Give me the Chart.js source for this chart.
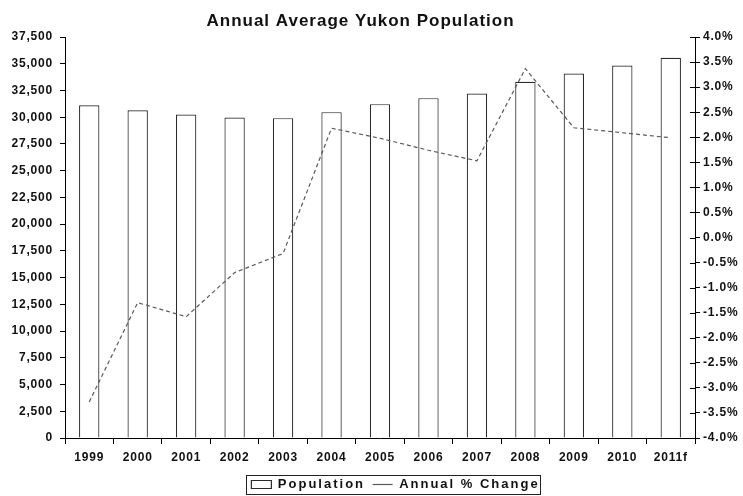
<!DOCTYPE html>
<html>
<head>
<meta charset="utf-8">
<script src="https://cdn.jsdelivr.net/npm/chart.js@4/dist/chart.umd.min.js"></script>
<style>
  html, body { margin: 0; padding: 0; background: #fff; }
  canvas { display: block; }
</style>
</head>
<body>
<canvas id="c" width="743" height="496"></canvas>
<script>
const years = ['1999','2000','2001','2002','2003','2004','2005','2006','2007','2008','2009','2010','2011f'];
const population = [31120, 30650, 30250, 29970, 29910, 30470, 31220, 31780, 32220, 33310, 34090, 34840, 35560];
const pctChange = [-3.28, -1.30, -1.58, -0.70, -0.32, 2.18, 1.98, 1.74, 1.53, 3.37, 2.19, 2.09, 1.99];
const leftTicks = [0, 37500, 2500];   // min, max, step
const rightTicks = [-4, 4, 0.5];      // min, max, step

const FONT = 'Liberation Sans, Arial, sans-serif';

function spaced(obj, names, sp) {
  names.forEach(n => {
    const key = '__w_' + n;
    if (obj[key]) return;
    const orig = obj[n];
    obj[n] = function (...a) {
      const c = this.ctx;
      const prev = c.letterSpacing;
      c.letterSpacing = sp;
      const r = orig.apply(this, a);
      c.letterSpacing = prev;
      return r;
    };
    obj[key] = true;
  });
}

const framePlugin = {
  id: 'frame',
  beforeLayout(chart) {
    if (chart.titleBlock) spaced(chart.titleBlock, ['draw'], '1px');
    if (chart.legend) spaced(chart.legend, ['fit', 'draw'], '2px');
    ['x', 'y', 'y1'].forEach(k => { if (chart.scales[k]) spaced(chart.scales[k], ['drawLabels'], '0.8px'); });
  },
  afterLayout(chart) {
    const t = chart.titleBlock;
    if (t) { t.left -= 11; t.right -= 11; }
    const l = chart.legend;
    if (l) { l.left += 24; l.right += 24; l.top += 5; l.bottom += 5; }
  },
  afterDraw(chart) {
    const ctx = chart.ctx;
    const y1 = chart.scales.y1;
    ctx.save();
    ctx.strokeStyle = '#000';
    ctx.lineWidth = 1;
    y1.ticks.forEach((tk, i) => {
      const y = Math.round(y1.getPixelForTick(i)) + 0.5;
      ctx.beginPath();
      ctx.moveTo(y1.left - 5, y);
      ctx.lineTo(y1.left, y);
      ctx.stroke();
    });
    const hb = chart.legend && chart.legend.legendHitBoxes;
    if (hb && hb.length) {
      let l = Infinity, r = -Infinity, t = Infinity, b = -Infinity;
      hb.forEach(h => {
        l = Math.min(l, h.left); r = Math.max(r, h.left + h.width);
        t = Math.min(t, h.top); b = Math.max(b, h.top + h.height);
      });
      ctx.strokeStyle = '#222';
      ctx.setLineDash([]);
      ctx.strokeRect(Math.round(l - 5) + 0.5, Math.round(t - 3) + 0.5, Math.round(r - l + 6), Math.round(b - t + 6));
    }
    ctx.restore();
  }
};

new Chart(document.getElementById('c'), {
  type: 'bar',
  data: {
    labels: years,
    datasets: [
      {
        label: 'Population',
        data: population,
        yAxisID: 'y',
        backgroundColor: '#ffffff',
        borderColor: '#2a2a2a',
        borderWidth: 1.2,
        barPercentage: 0.42,
        categoryPercentage: 1.0,
        pointStyle: 'rect',
        order: 2
      },
      {
        type: 'line',
        label: 'Annual % Change',
        data: pctChange,
        yAxisID: 'y1',
        borderColor: '#5a5a5a',
        backgroundColor: '#5a5a5a',
        borderWidth: 1.2,
        borderDash: [4, 3],
        pointRadius: 0,
        pointStyle: 'line',
        tension: 0,
        fill: false,
        order: 1
      }
    ]
  },
  options: {
    responsive: false,
    animation: false,
    devicePixelRatio: 1,
    layout: { padding: { left: 0, right: 0, top: 0, bottom: 0 } },
    plugins: {
      title: {
        display: true,
        text: 'Annual Average Yukon Population',
        color: '#111',
        font: { family: FONT, size: 17, weight: 'bold' },
        padding: { top: 11, bottom: 5.6 }
      },
      legend: {
        display: true,
        position: 'bottom',
        labels: {
          color: '#111',
          font: { family: FONT, size: 13, weight: 'bold', lineHeight: 1.0 },
          usePointStyle: true,
          pointStyleWidth: 20,
          boxHeight: 8,
          padding: 2,
          sort: (a, b) => a.datasetIndex - b.datasetIndex,
          generateLabels(chart) {
            const items = Chart.defaults.plugins.legend.labels.generateLabels(chart);
            items.forEach(it => { if (it.datasetIndex === 0) it.text = it.text + ' '; });
            return items;
          }
        }
      },
      tooltip: { enabled: false }
    },
    scales: {
      x: {
        grid: { display: true, drawOnChartArea: false, drawTicks: true, tickLength: 6, color: '#000', offset: true },
        border: { display: true, color: '#000', width: 1 },
        ticks: { color: '#111', font: { family: FONT, size: 12, weight: 'bold' }, padding: 6, maxRotation: 0, autoSkip: false },
        afterFit(s) { s.height = 33; }
      },
      y: {
        position: 'left',
        min: leftTicks[0], max: leftTicks[1],
        grid: { display: true, drawOnChartArea: false, drawTicks: true, tickLength: 5, color: '#000' },
        border: { display: true, color: '#000', width: 1 },
        ticks: {
          stepSize: leftTicks[2],
          color: '#111',
          font: { family: FONT, size: 12, weight: 'bold' },
          padding: 7,
          callback: v => v.toLocaleString('en-US')
        },
        afterFit(s) { s.width = 65; }
      },
      y1: {
        position: 'right',
        min: rightTicks[0], max: rightTicks[1],
        grid: { display: true, drawOnChartArea: false, drawTicks: true, tickLength: 5, color: '#000' },
        border: { display: true, color: '#000', width: 1 },
        ticks: {
          stepSize: rightTicks[2],
          color: '#111',
          font: { family: FONT, size: 12, weight: 'bold' },
          padding: 3,
          callback: v => v.toFixed(1) + '%'
        },
        afterFit(s) { s.width = 48; }
      }
    }
  },
  plugins: [framePlugin]
});
</script>
</body>
</html>
